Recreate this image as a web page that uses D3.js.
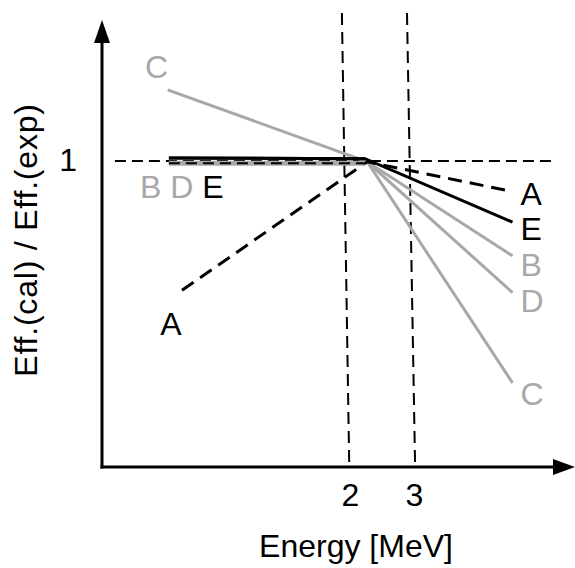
<!DOCTYPE html>
<html>
<head>
<meta charset="utf-8">
<script src="https://cdn.jsdelivr.net/npm/d3@7"></script>
<style>
  body { margin: 0; background: #fff; overflow: hidden; }
  svg { display: block; }
  text { font-family: "Liberation Sans", Arial, sans-serif; font-size: 32px; }
</style>
</head>
<body>
<div id="chart"></div>
<script>
// values (energy in MeV, ratio Eff.(cal)/Eff.(exp))
var aEnergy = [0.69, 2.23, 5.6];
var aRatio  = [0.831, 0.999, 0.960];
var bEnergy = [0.635, 2.2, 2.23, 5.6];
var bRatio  = [0.997, 0.997, 0.999, 0.876];
var cEnergy = [0.63, 2.23, 5.6];
var cRatio  = [1.093, 0.999, 0.710];
var dEnergy = [0.635, 2.2, 2.23, 5.6];
var dRatio  = [0.997, 0.997, 0.999, 0.828];
var eEnergy = [0.635, 2.2, 5.6];
var eRatio  = [1.004, 1.003, 0.920];

var xTicks = [2, 3];
var yTicks = [1];
// the two vertical guides are drawn a bit slanted in the original
var guideTop    = [1.90, 2.87];
var guideBottom = [1.99, 3.02];

var grey = "#a8a8a8";

var width = 575, height = 568;
var plotLeft = 102, plotBottom = 467, plotTop = 20, plotRight = 575;

var svg = d3.select("#chart").append("svg")
    .attr("width", width)
    .attr("height", height);

var x = d3.scaleLog().domain([2, 3]).range([350, 414]);
var y = d3.scaleLinear().domain([0.6, 1]).range([plotBottom, 161]);

function pts(e, r) { return e.map(function(v, i) { return [v, r[i]]; }); }

var line = d3.line()
    .x(function(d) { return x(d[0]); })
    .y(function(d) { return y(d[1]); });

// dashed reference lines
svg.append("line")
    .attr("x1", x(0.451)).attr("x2", x(7.33))
    .attr("y1", y(1)).attr("y2", y(1))
    .style("stroke", "black").style("stroke-width", 2)
    .style("stroke-dasharray", "11,6");

svg.selectAll(".guide")
   .data(guideTop)
   .enter()
   .append("line")
   .attr("class", "guide")
   .attr("x1", function(d) { return x(d); })
   .attr("y1", y(1.1935))
   .attr("x2", function(d, i) { return x(guideBottom[i]); })
   .attr("y2", plotBottom - 4)
   .style("stroke", "black").style("stroke-width", 2)
   .style("stroke-dasharray", "12,7");

// series
var series = [
  {name: "C", data: pts(cEnergy, cRatio), color: grey, dash: null, dy: 22},
  {name: "B", data: pts(bEnergy, bRatio), color: grey, dash: null, dy: 20},
  {name: "D", data: pts(dEnergy, dRatio), color: grey, dash: null, dy: 19},
  {name: "E", data: pts(eEnergy, eRatio), color: "black", dash: null, dy: 18},
  {name: "A", data: pts(aEnergy, aRatio), color: "black", dash: "14,8", dy: 13}
];

svg.selectAll(".series")
   .data(series)
   .enter()
   .append("path")
   .attr("class", "series")
   .attr("d", function(d) { return line(d.data); })
   .style("fill", "none")
   .style("stroke", function(d) { return d.color; })
   .style("stroke-width", 3)
   .style("stroke-dasharray", function(d) { return d.dash; });

// flat part of B and D is a thicker grey band, dashed 1-line on top
svg.append("path")
   .attr("d", line(pts(bEnergy.slice(0, 2), bRatio.slice(0, 2))))
   .style("stroke", grey).style("stroke-width", 5).style("fill", "none");
svg.append("line")
    .attr("x1", x(bEnergy[0])).attr("x2", x(bEnergy[1]))
    .attr("y1", y(bRatio[0])).attr("y2", y(bRatio[1]))
    .style("stroke", "black").style("stroke-width", 2)
    .style("stroke-dasharray", "11,6");
svg.append("path")
   .attr("d", line(pts(eEnergy.slice(0, 2), eRatio.slice(0, 2))))
   .style("stroke", "black").style("stroke-width", 3).style("fill", "none");

// end labels on the right
svg.selectAll(".endlabel")
   .data(series)
   .enter()
   .append("text")
   .attr("class", "endlabel")
   .attr("x", function(d) { var p = d.data[d.data.length - 1]; return x(p[0]) + 8; })
   .attr("y", function(d) { var p = d.data[d.data.length - 1]; return y(p[1]) + d.dy; })
   .style("fill", function(d) { return d.color; })
   .text(function(d) { return d.name; });

// start labels on the left
svg.append("text")
   .attr("x", x(cEnergy[0]) - 11).attr("y", y(cRatio[0]) - 12)
   .attr("text-anchor", "middle").style("fill", grey).text("C");
svg.append("text")
   .attr("x", x(aEnergy[0]) - 11).attr("y", y(aRatio[0]) + 45)
   .attr("text-anchor", "middle").style("fill", "black").text("A");
var bde = svg.append("text")
   .attr("x", x(bEnergy[0]) - 29).attr("y", y(bRatio[0]) + 35);
bde.append("tspan").style("fill", grey).text("B D ");
bde.append("tspan").style("fill", "black").text("E");

// axes: plain lines with arrow heads, labels from d3 axes
svg.append("line")
    .attr("x1", plotLeft).attr("y1", plotBottom + 1.5).attr("x2", plotLeft).attr("y2", plotTop + 20)
    .style("stroke", "black").style("stroke-width", 3);
svg.append("path")
    .attr("d", "M" + plotLeft + "," + plotTop + "L" + (plotLeft - 8) + "," + (plotTop + 23) + "L" + (plotLeft + 8) + "," + (plotTop + 23) + "Z")
    .style("fill", "black");
svg.append("line")
    .attr("x1", plotLeft - 1.5).attr("y1", plotBottom).attr("x2", plotRight - 18).attr("y2", plotBottom)
    .style("stroke", "black").style("stroke-width", 3);
svg.append("path")
    .attr("d", "M" + plotRight + "," + plotBottom + "L" + (plotRight - 22) + "," + (plotBottom - 8) + "L" + (plotRight - 22) + "," + (plotBottom + 8) + "Z")
    .style("fill", "black");

var xAxis = svg.append("g")
    .attr("transform", "translate(0," + plotBottom + ")")
    .call(d3.axisBottom(x).tickValues(xTicks).tickSize(0).tickPadding(16).tickFormat(d3.format("d")));
var yAxis = svg.append("g")
    .attr("transform", "translate(" + plotLeft + ",0)")
    .call(d3.axisLeft(y).tickValues(yTicks).tickSize(0).tickPadding(25).tickFormat(d3.format("d")));
[xAxis, yAxis].forEach(function(g) {
  g.select(".domain").remove();
  g.selectAll("text")
   .attr("font-family", "Liberation Sans, Arial, sans-serif")
   .attr("font-size", "32px")
   .attr("fill", "black");
});
yAxis.selectAll("text").attr("dy", "0.3em");

// axis titles
svg.append("text")
   .attr("x", 356).attr("y", 557)
   .attr("text-anchor", "middle")
   .text("Energy [MeV]");
svg.append("text")
   .attr("transform", "translate(37,240) rotate(-90)")
   .attr("text-anchor", "middle")
   .style("letter-spacing", "0.8px")
   .text("Eff.(cal) / Eff.(exp)");
</script>
</body>
</html>
